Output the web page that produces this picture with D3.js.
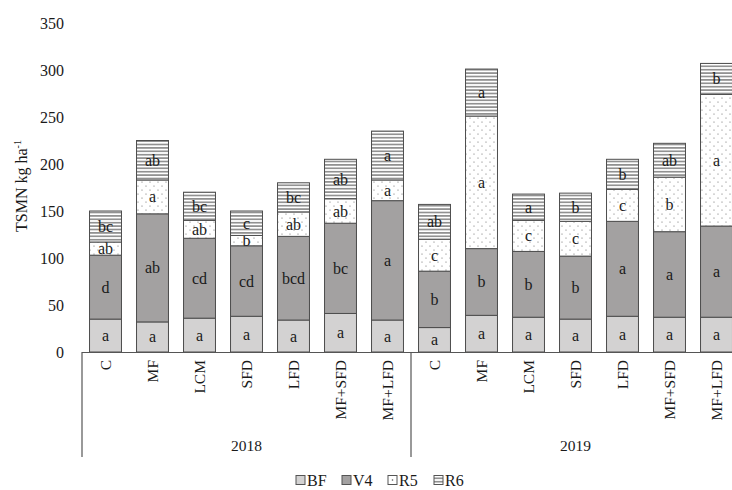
<!DOCTYPE html>
<html>
<head>
<meta charset="utf-8">
<script src="https://cdn.jsdelivr.net/npm/d3@7/dist/d3.min.js"></script>
<style>
  body { margin: 0; background: #fff; }
  text { font-family: "Liberation Serif", "DejaVu Serif", serif; fill: #1a1a1a; }
</style>
</head>
<body>
<svg id="chart"></svg>
<script>
// categories
const years = ["2018", "2019"];
const treatments = ["C", "MF", "LCM", "SFD", "LFD", "MF+SFD", "MF+LFD"];
const stages = ["BF", "V4", "R5", "R6"];
const yTicks = [0, 50, 100, 150, 200, 250, 300, 350];

// segment values (kg ha-1), 2018 treatments then 2019 treatments
const BF = [35, 32, 36, 38, 34, 41, 34,   26, 39, 37, 35, 38, 37, 37];
const V4 = [68, 115, 85, 75, 89, 96, 127,  60, 71, 70, 67, 101, 91, 97];
const R5 = [14, 36, 19, 11, 26, 26, 22,   34, 141, 33, 37, 34, 58, 140];
const R6 = [33, 42, 30, 26, 31, 42, 52,   37, 50, 28, 30, 32, 36, 33];

// significance letters
const BFlab = ["a", "a", "a", "a", "a", "a", "a",   "a", "a", "a", "a", "a", "a", "a"];
const V4lab = ["d", "ab", "cd", "cd", "bcd", "bc", "a",   "b", "b", "b", "b", "a", "a", "a"];
const R5lab = ["ab", "a", "ab", "b", "ab", "ab", "a",   "c", "a", "c", "c", "c", "b", "a"];
const R6lab = ["bc", "ab", "bc", "c", "bc", "ab", "a",   "ab", "a", "a", "b", "b", "ab", "b"];

const W = 732, H = 490;
const svg = d3.select("#chart").attr("width", W).attr("height", H);

// build rows for the stack
const rows = [];
years.forEach((yr, yi) => treatments.forEach((t, ti) => {
  const i = yi * treatments.length + ti;
  rows.push({ key: i, year: yr, trt: t, BF: BF[i], V4: V4[i], R5: R5[i], R6: R6[i] });
}));
const labels = { BF: BFlab, V4: V4lab, R5: R5lab, R6: R6lab };

const x = d3.scaleBand()
  .domain(rows.map(d => d.key))
  .range([82, 740])
  .paddingInner(0.32)
  .paddingOuter(0.16);

const y = d3.scaleLinear().domain([0, 350]).range([352, 23]);

// patterns
const defs = svg.append("defs");
const dots = defs.append("pattern").attr("id", "dots")
  .attr("patternUnits", "userSpaceOnUse").attr("width", 8).attr("height", 8);
dots.append("rect").attr("width", 8).attr("height", 8).attr("fill", "#fff");
dots.append("circle").attr("cx", 2).attr("cy", 2).attr("r", 0.6).attr("fill", "#666");
dots.append("circle").attr("cx", 6).attr("cy", 6).attr("r", 0.6).attr("fill", "#666");

const lines = defs.append("pattern").attr("id", "lines")
  .attr("patternUnits", "userSpaceOnUse").attr("width", 6).attr("height", 3.4);
lines.append("rect").attr("width", 6).attr("height", 3.4).attr("fill", "#fff");
lines.append("line").attr("x1", 0).attr("x2", 6).attr("y1", 1.7).attr("y2", 1.7)
  .attr("stroke", "#444").attr("stroke-width", 1);

const fills = { BF: "#d3d2d2", V4: "#a3a1a1", R5: "url(#dots)", R6: "url(#lines)" };

const series = d3.stack().keys(stages)(rows);

const g = svg.append("g");
series.forEach(s => {
  const grp = g.append("g").attr("fill", fills[s.key]);
  grp.selectAll("rect")
    .data(s)
    .join("rect")
    .attr("x", d => x(d.data.key))
    .attr("y", d => y(d[1]))
    .attr("width", x.bandwidth())
    .attr("height", d => y(d[0]) - y(d[1]))
    .attr("stroke", "#4d4d4d")
    .attr("stroke-width", 1);
  g.append("g").selectAll("text")
    .data(s)
    .join("text")
    .attr("x", d => x(d.data.key) + x.bandwidth() / 2)
    .attr("y", d => (y(d[0]) + y(d[1])) / 2)
    .attr("text-anchor", "middle")
    .attr("dominant-baseline", "central")
    .attr("font-size", 16)
    .text((d, i) => labels[s.key][i]);
});

// y axis: labels only
const yAxis = svg.append("g")
  .attr("transform", "translate(66,0)")
  .call(d3.axisLeft(y).tickValues(yTicks).tickSize(0).tickPadding(2));
yAxis.select(".domain").remove();
yAxis.selectAll("text").attr("font-size", 16).attr("fill", "#1a1a1a")
  .style("font-family", '"Liberation Serif", serif');

svg.append("text")
  .attr("transform", "translate(27,186) rotate(-90)")
  .attr("text-anchor", "middle")
  .attr("font-size", 16)
  .html('TSMN kg ha<tspan dy="-6" font-size="10">-1</tspan>');

// x axis line and group dividers
svg.append("line").attr("x1", 82).attr("x2", W).attr("y1", 352.5).attr("y2", 352.5)
  .attr("stroke", "#555").attr("stroke-width", 1.2);
const groupEdges = [0, treatments.length].map(i => x(i) - x.step() * x.paddingOuter());
svg.selectAll(".divider")
  .data(groupEdges)
  .join("line")
  .attr("x1", d => d).attr("x2", d => d)
  .attr("y1", 352).attr("y2", 457)
  .attr("stroke", "#555").attr("stroke-width", 1.2);

// category labels (rotated)
svg.append("g").selectAll("text")
  .data(rows)
  .join("text")
  .attr("transform", d => `translate(${x(d.key) + x.bandwidth() / 2 + 5},360) rotate(-90)`)
  .attr("text-anchor", "end")
  .attr("font-size", 15.5)
  .text(d => d.trt);

// year labels
svg.append("g").selectAll("text")
  .data(years)
  .join("text")
  .attr("x", (d, i) => {
    const a = x(i * treatments.length) - x.step() * x.paddingOuter();
    return a + x.step() * treatments.length / 2;
  })
  .attr("y", 451)
  .attr("text-anchor", "middle")
  .attr("font-size", 15.5)
  .text(d => d);

// legend
const legend = svg.append("g").attr("transform", "translate(296,480)");
const item = legend.selectAll("g")
  .data(stages)
  .join("g")
  .attr("transform", (d, i) => `translate(${i * 46},0)`);
item.append("rect")
  .attr("x", 0).attr("y", -4.5).attr("width", 9).attr("height", 9)
  .attr("fill", d => d === "R5" ? "#fff" : fills[d])
  .attr("stroke", "#555");
item.filter(d => d === "R5").append("circle")
  .attr("cx", 4.5).attr("cy", 0).attr("r", 0.8).attr("fill", "#555");
item.append("text")
  .attr("x", 11).attr("y", 0)
  .attr("dominant-baseline", "central")
  .attr("font-size", 16)
  .text(d => d);
</script>
</body>
</html>
